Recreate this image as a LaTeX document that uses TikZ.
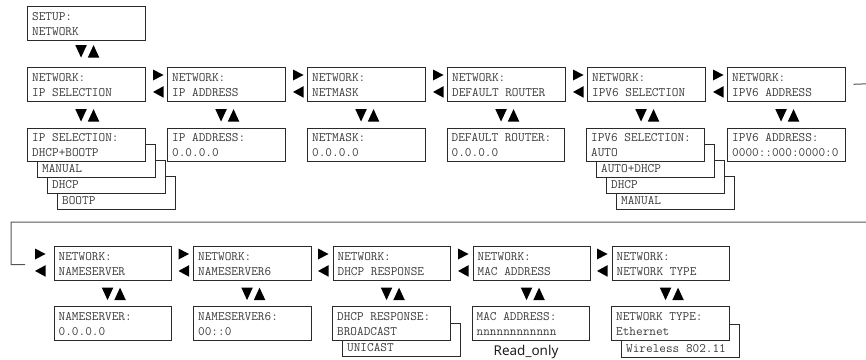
\documentclass[tikz,border=0pt]{standalone}
\usepackage{fontspec}
\newfontfamily\readfont{Noto Sans}
\definecolor{boxc}{HTML}{2A2A2A}
\definecolor{txtc}{HTML}{3C3C3C}
\definecolor{linec}{HTML}{555555}
\tikzset{
  lcdframe/.style={draw=boxc, line width=1.1pt, fill=white, rectangle,
    minimum width=117.5pt, minimum height=33.5pt, inner sep=0pt, anchor=north west},
  lcdtext/.style={text=txtc, font=\ttfamily\fontsize{12.9}{15}\selectfont,
    inner sep=0pt, anchor=base west},
  tri/.style={fill=black},
  loopline/.style={draw=linec, line width=1pt}
}
% box with two lines
\newcommand\lcd[5]{%
  \node[lcdframe] (#1) at (#2,#3) {};
  \node[lcdtext] (#1a) at ([shift={(5,14)}]#1.north west) {#4};
  \node[lcdtext] (#1b) at ([shift={(5,29)}]#1.north west) {#5};}
% back box of a stack: only its second line shows
\newcommand\lcdback[4]{%
  \node[lcdframe] (#1) at (#2,#3) {};
  \node[lcdtext] (#1b) at ([shift={(5,29)}]#1.north west) {#4};}
% down/up triangles below node #1, #2 = gap below its south border
\newcommand\vud[2]{%
  \fill[tri] ([shift={(-11,#2)}]#1.south) -- ([shift={(0.5,#2)}]#1.south)
     -- ([shift={(-5.25,#2+12.5)}]#1.south) -- cycle;
  \fill[tri] ([shift={(1.5,#2+12.5)}]#1.south) -- ([shift={(13,#2+12.5)}]#1.south)
     -- ([shift={(7.25,#2)}]#1.south) -- cycle;}
% right/left triangles to the left of node #1, #2 = extra x offset
\newcommand\hlr[2]{%
  \fill[tri] ([shift={(-14.5+#2,2.5)}]#1.north west) -- ([shift={(-4+#2,8)}]#1.north west)
     -- ([shift={(-14.5+#2,13.5)}]#1.north west) -- cycle;
  \fill[tri] ([shift={(-4+#2,19.2)}]#1.north west) -- ([shift={(-14.5+#2,24.95)}]#1.north west)
     -- ([shift={(-4+#2,30.7)}]#1.north west) -- cycle;}
\begin{document}
\begin{tikzpicture}[x=1pt,y=-1pt]
\useasboundingbox (0,0) rectangle (866,359);

% ---- setup
\lcd{setup}{27}{6}{SETUP:}{NETWORK}

% ---- first row headers
\lcd{nA}{27}{67}{NETWORK:}{IP SELECTION}
\lcd{nB}{167}{67}{NETWORK:}{IP ADDRESS}
\lcd{nC}{307}{67}{NETWORK:}{NETMASK}
\lcd{nD}{447}{67}{NETWORK:}{DEFAULT ROUTER}
\lcd{nE}{587}{67}{NETWORK:}{IPV6 SELECTION}
\lcd{nF}{727}{67}{NETWORK:}{IPV6 ADDRESS}

% ---- first row values
\lcdback{vAc}{57}{175.5}{BOOTP}
\lcdback{vAb}{47}{159.5}{DHCP}
\lcdback{vAa}{37}{143.5}{MANUAL}
\lcd{vA}{27}{127.5}{IP SELECTION:}{DHCP+BOOTP}
\lcd{vB}{167}{127.5}{IP ADDRESS:}{0.0.0.0}
\lcd{vC}{307}{127.5}{NETMASK:}{0.0.0.0}
\lcd{vD}{446.5}{127.5}{DEFAULT ROUTER:}{0.0.0.0}
\lcdback{vEc}{616}{175.5}{MANUAL}
\lcdback{vEb}{606}{159.5}{DHCP}
\lcdback{vEa}{596}{143.5}{AUTO+DHCP}
\lcd{vE}{586}{127.5}{IPV6 SELECTION:}{AUTO}
\lcd{vF}{727}{127.5}{IPV6 ADDRESS:}{0000::000:0000:0}

% ---- second row headers
\lcd{mA}{53.5}{246}{NETWORK:}{NAMESERVER}
\lcd{mB}{193}{246}{NETWORK:}{NAMESERVER6}
\lcd{mC}{332.5}{246}{NETWORK:}{DHCP RESPONSE}
\lcd{mD}{472.5}{246}{NETWORK:}{MAC ADDRESS}
\lcd{mE}{611.5}{246}{NETWORK:}{NETWORK TYPE}

% ---- second row values
\lcd{wA}{53.5}{306}{NAMESERVER:}{0.0.0.0}
\lcd{wB}{193}{306}{NAMESERVER6:}{00::0}
\lcdback{wCa}{342}{322.5}{UNICAST}
\lcd{wC}{332}{306}{DHCP RESPONSE:}{BROADCAST}
\lcd{wD}{471.5}{306}{MAC ADDRESS:}{nnnnnnnnnnnn}
\lcdback{wEa}{621}{323.5}{Wireless 802.11}
\lcd{wE}{611}{306}{NETWORK TYPE:}{Ethernet}
\node[font=\readfont\fontsize{13.5}{16}\selectfont, text=black!88, inner sep=0pt, anchor=base]
  (ro) at (526,355.5) {Read\_only};

% ---- down/up triangles
\vud{setup}{4.5}
\vud{nA}{7.5}
\vud{nB}{7.5}
\vud{nC}{7.5}
\vud{nD}{7.5}
\vud{nE}{7.5}
\vud{nF}{7.5}
\vud{mA}{7}
\vud{mB}{7}
\vud{mC}{7}
\vud{mD}{7}
\vud{mE}{7}

% ---- right/left triangles
\hlr{nB}{0.5}
\hlr{nC}{0.5}
\hlr{nD}{0.5}
\hlr{nE}{0.5}
\hlr{nF}{0.5}
\hlr{mA}{-4}
\hlr{mB}{0}
\hlr{mC}{0}
\hlr{mD}{0}
\hlr{mE}{0}

% ---- loop connector
\coordinate (loopstart) at ([xshift=8pt]nF.east);
\coordinate (loopend) at (25,264.5);
\draw[loopline] (loopstart) -- (868,83.75) -- (868,222) -- (11,222) |- (loopend);
\end{tikzpicture}
\end{document}
